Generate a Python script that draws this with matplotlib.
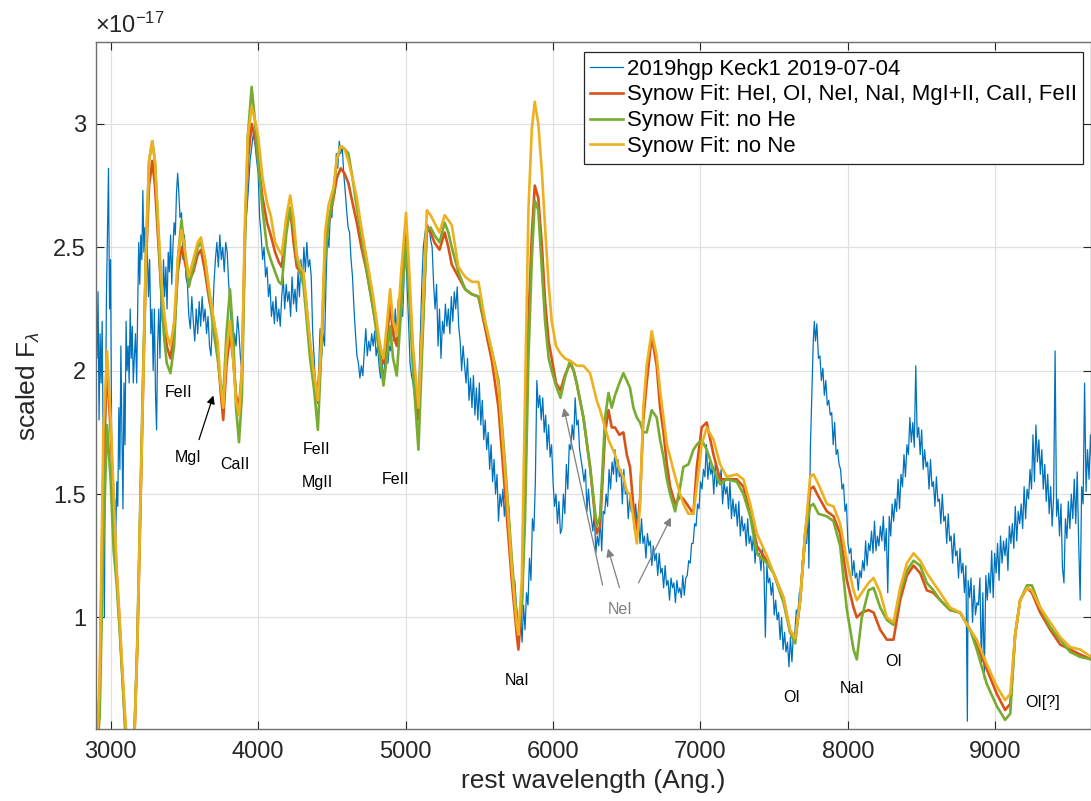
import matplotlib.pyplot as plt
from matplotlib.ticker import FormatStrFormatter

plt.rcParams['font.family'] = ['Liberation Sans', 'DejaVu Sans']
plt.rcParams['mathtext.fontset'] = 'custom'
plt.rcParams['mathtext.rm'] = 'Liberation Sans'
plt.rcParams['mathtext.it'] = 'Liberation Sans:italic'

spec_uv = [(2900, 2.27), (2907, 2.05), (2914, 2.32), (2921, 1.80), (2928, 2.15), (2935, 1.95),
           (2942, 2.20), (2950, 1.62), (2957, 1.00), (2964, 1.75), (2971, 2.30), (2978, 2.55),
           (2985, 2.82), (2992, 2.25), (2999, 2.45), (3006, 1.72), (3013, 1.50), (3020, 1.38),
           (3027, 1.48), (3034, 1.32), (3041, 1.55), (3048, 1.45), (3055, 1.85), (3062, 1.60),
           (3069, 2.10), (3076, 1.75), (3083, 1.44), (3090, 1.95), (3097, 1.70), (3104, 2.20),
           (3111, 2.00), (3118, 2.10), (3125, 1.95), (3132, 2.25), (3139, 2.05), (3146, 2.18),
           (3153, 1.95), (3160, 2.05), (3168, 2.15), (3176, 1.95), (3184, 2.30), (3190, 2.52),
           (3197, 2.35), (3204, 2.55), (3211, 2.45), (3218, 2.73), (3225, 2.48), (3232, 2.58),
           (3240, 2.40), (3248, 2.50), (3256, 2.30), (3264, 2.45), (3272, 2.15), (3280, 2.25),
           (3288, 2.00), (3296, 2.25), (3304, 1.90), (3311, 1.76), (3318, 2.10), (3326, 2.25),
           (3334, 2.05), (3342, 2.35), (3350, 2.20), (3358, 2.45), (3366, 2.30), (3374, 2.42),
           (3382, 2.25), (3390, 2.48), (3398, 2.40), (3406, 2.55), (3414, 2.35), (3422, 2.50),
           (3430, 2.60), (3438, 2.55), (3446, 2.72), (3454, 2.80), (3462, 2.72), (3470, 2.62)]

spec_blue = [(3480, 2.64), (3490, 2.45), (3500, 2.55), (3510, 2.38), (3520, 2.35), (3530, 2.22),
             (3540, 2.17), (3550, 2.30), (3560, 2.20), (3570, 2.12), (3580, 2.25), (3590, 2.15),
             (3600, 2.28), (3610, 2.18), (3620, 2.30), (3630, 2.20), (3640, 2.25), (3650, 2.15),
             (3660, 2.22), (3670, 2.10), (3680, 2.06), (3690, 2.20), (3700, 2.35), (3710, 2.45),
             (3720, 2.52), (3730, 2.42), (3740, 2.55), (3750, 2.45), (3760, 2.50), (3770, 2.40),
             (3780, 2.52), (3790, 2.48), (3800, 2.35), (3810, 2.28), (3820, 2.15), (3830, 2.03),
             (3840, 2.15), (3850, 2.10), (3860, 2.22), (3870, 2.15), (3880, 2.05), (3890, 2.00),
             (3900, 2.30), (3910, 2.56), (3920, 2.62), (3933, 2.73), (3945, 2.85), (3955, 2.90),
             (3967, 2.96), (3978, 2.92), (3990, 2.85)]

spec_green = [(4000, 2.80), (4010, 2.62), (4020, 2.55), (4030, 2.45), (4040, 2.50), (4050, 2.38),
              (4060, 2.42), (4070, 2.30), (4080, 2.35), (4090, 2.22), (4100, 2.28), (4110, 2.19),
              (4120, 2.30), (4130, 2.20), (4140, 2.25), (4150, 2.18), (4160, 2.30), (4170, 2.38),
              (4180, 2.25), (4190, 2.35), (4200, 2.28), (4210, 2.32), (4220, 2.22), (4230, 2.38),
              (4240, 2.27), (4250, 2.33), (4260, 2.24), (4270, 2.40), (4280, 2.30), (4290, 2.45),
              (4300, 2.35), (4310, 2.50), (4320, 2.40), (4330, 2.52), (4340, 2.42), (4350, 2.45),
              (4360, 2.38), (4370, 2.15), (4380, 2.05), (4390, 1.92), (4400, 1.89), (4410, 2.00),
              (4420, 2.17), (4430, 2.06), (4440, 2.15), (4450, 2.10), (4460, 2.35), (4470, 2.55),
              (4480, 2.50), (4490, 2.65), (4500, 2.62), (4510, 2.75), (4520, 2.72), (4530, 2.88),
              (4540, 2.82), (4550, 2.93), (4560, 2.88), (4570, 2.91), (4580, 2.80), (4590, 2.73),
              (4600, 2.65), (4610, 2.58), (4620, 2.56), (4630, 2.45), (4640, 2.38), (4650, 2.25),
              (4660, 2.15), (4670, 2.06), (4680, 2.03), (4690, 1.97), (4700, 2.02), (4710, 1.98),
              (4720, 2.08), (4730, 2.17), (4740, 2.06), (4750, 2.12), (4760, 2.08), (4770, 2.15),
              (4780, 2.10), (4790, 2.16), (4800, 2.06), (4810, 2.10), (4820, 2.02), (4830, 1.97),
              (4840, 2.03), (4850, 1.96), (4860, 2.05), (4870, 2.12), (4880, 2.03), (4890, 2.10),
              (4900, 2.08), (4910, 2.20), (4920, 2.12), (4930, 2.25), (4940, 2.15), (4950, 2.29),
              (4960, 2.18), (4970, 2.26), (4980, 2.22), (4990, 2.38), (5000, 2.50), (5010, 2.35),
              (5020, 2.20), (5030, 2.03), (5040, 1.98), (5050, 1.95), (5060, 1.90), (5070, 1.88),
              (5080, 1.85), (5090, 1.95), (5100, 2.15), (5110, 2.35), (5120, 2.50), (5130, 2.55),
              (5140, 2.59), (5150, 2.56), (5160, 2.58), (5170, 2.53), (5180, 2.50), (5190, 2.35),
              (5200, 2.25), (5210, 2.35), (5220, 2.10), (5230, 2.25), (5240, 2.05), (5250, 2.20),
              (5260, 2.15), (5270, 2.27), (5280, 2.18), (5290, 2.25), (5300, 2.15)]

spec_nad = [(5310, 2.30), (5320, 2.20), (5330, 2.32), (5340, 2.25), (5350, 2.34), (5360, 2.18),
            (5370, 2.12), (5380, 2.00), (5390, 2.10), (5400, 2.02), (5410, 1.95), (5420, 2.05),
            (5430, 1.88), (5440, 1.97), (5450, 1.85), (5460, 1.98), (5470, 1.82), (5480, 1.93),
            (5490, 1.80), (5500, 1.95), (5510, 1.78), (5520, 1.88), (5530, 1.72), (5540, 1.80),
            (5550, 1.68), (5560, 1.75), (5570, 1.60), (5580, 1.70), (5590, 1.55), (5600, 1.64),
            (5610, 1.50), (5620, 1.58), (5630, 1.39), (5640, 1.50), (5650, 1.45), (5660, 1.52),
            (5670, 1.41), (5680, 1.48), (5690, 1.40), (5700, 1.45), (5710, 1.30), (5720, 1.18),
            (5730, 1.10), (5740, 1.15), (5750, 1.06), (5760, 1.00), (5770, 0.95), (5780, 1.00),
            (5790, 0.90), (5800, 1.05), (5810, 0.95), (5820, 1.10), (5830, 1.05), (5840, 1.24),
            (5850, 1.15), (5860, 1.40), (5870, 1.35), (5880, 1.55), (5890, 1.96), (5900, 1.85),
            (5910, 1.90), (5920, 1.80), (5930, 1.89), (5940, 1.75), (5950, 1.82), (5960, 1.68),
            (5970, 1.78), (5980, 1.65), (5990, 1.70), (6000, 1.55)]

spec_red = [(6010, 1.45), (6020, 1.50), (6030, 1.38), (6040, 1.47), (6050, 1.34), (6060, 1.36),
            (6070, 1.50), (6080, 1.42), (6090, 1.62), (6100, 1.52), (6110, 1.70), (6120, 1.68),
            (6130, 1.78), (6140, 1.72), (6150, 1.89), (6160, 1.78), (6170, 1.80), (6180, 1.68),
            (6190, 1.64), (6200, 1.60), (6210, 1.55), (6220, 1.60), (6230, 1.43), (6240, 1.52),
            (6250, 1.44), (6260, 1.40), (6270, 1.35), (6280, 1.42), (6290, 1.26), (6300, 1.33),
            (6310, 1.29), (6320, 1.40), (6330, 1.27), (6340, 1.43), (6350, 1.42), (6360, 1.50),
            (6370, 1.45), (6380, 1.60), (6390, 1.52), (6400, 1.63), (6410, 1.58), (6420, 1.68),
            (6430, 1.55), (6440, 1.64), (6450, 1.57), (6460, 1.60), (6470, 1.46), (6480, 1.60),
            (6490, 1.50), (6500, 1.52), (6510, 1.40), (6520, 1.49), (6530, 1.43), (6540, 1.47),
            (6550, 1.36), (6560, 1.46), (6570, 1.38), (6580, 1.39), (6590, 1.30), (6600, 1.40),
            (6610, 1.30), (6620, 1.33), (6630, 1.24), (6640, 1.34), (6650, 1.29), (6660, 1.31),
            (6670, 1.21), (6680, 1.29), (6690, 1.23), (6700, 1.26), (6710, 1.17), (6720, 1.26),
            (6730, 1.18), (6740, 1.20), (6750, 1.12), (6760, 1.21), (6770, 1.13), (6780, 1.15),
            (6790, 1.07), (6800, 1.16), (6810, 1.12), (6820, 1.14), (6830, 1.06), (6840, 1.15),
            (6850, 1.10), (6860, 1.12), (6870, 1.08), (6880, 1.17), (6890, 1.09), (6900, 1.16),
            (6910, 1.17), (6920, 1.23), (6930, 1.22), (6940, 1.30), (6950, 1.30), (6960, 1.38),
            (6970, 1.37), (6980, 1.46), (6990, 1.44), (7000, 1.55)]

spec_oi = [(7010, 1.52), (7020, 1.60), (7030, 1.57), (7040, 1.70), (7050, 1.56), (7060, 1.63),
           (7070, 1.58), (7080, 1.61), (7090, 1.50), (7100, 1.62), (7110, 1.53), (7120, 1.58),
           (7130, 1.54), (7140, 1.60), (7150, 1.46), (7160, 1.55), (7170, 1.50), (7180, 1.53),
           (7190, 1.44), (7200, 1.55), (7210, 1.40), (7220, 1.48), (7230, 1.41), (7240, 1.46),
           (7250, 1.37), (7260, 1.47), (7270, 1.33), (7280, 1.41), (7290, 1.35), (7300, 1.38),
           (7310, 1.29), (7320, 1.40), (7330, 1.30), (7340, 1.33), (7350, 1.27), (7360, 1.34),
           (7370, 1.22), (7380, 1.31), (7390, 1.25), (7400, 1.26), (7410, 1.19), (7420, 1.28),
           (7430, 1.20), (7440, 0.92), (7450, 1.21), (7460, 1.14), (7470, 1.16), (7480, 1.09),
           (7490, 1.14), (7500, 1.01), (7510, 1.07), (7520, 0.99), (7530, 1.02), (7540, 0.91),
           (7550, 1.00), (7560, 0.87), (7570, 0.94), (7580, 0.86), (7590, 0.90), (7600, 0.80),
           (7610, 0.92), (7620, 0.82), (7630, 0.93), (7640, 0.94), (7650, 1.03), (7660, 1.01),
           (7670, 1.10), (7680, 1.09), (7690, 1.23), (7700, 1.22), (7710, 1.30), (7720, 1.30),
           (7730, 1.44), (7735, 1.20), (7745, 1.68), (7755, 1.90), (7765, 2.12), (7772, 2.20),
           (7780, 2.12), (7789, 2.19), (7800, 2.05), (7810, 2.06), (7820, 1.96), (7830, 2.01),
           (7840, 1.90), (7850, 1.96), (7860, 1.86), (7870, 1.88), (7880, 1.82), (7890, 1.83),
           (7900, 1.70), (7910, 1.79), (7920, 1.66), (7930, 1.68), (7940, 1.62), (7950, 1.60),
           (7960, 1.52), (7970, 1.54), (7980, 1.43), (7990, 1.46), (8000, 1.30)]

spec_ir = [(8010, 1.26), (8020, 1.28), (8030, 1.17), (8040, 1.23), (8050, 1.16), (8060, 1.18),
           (8070, 1.11), (8080, 1.19), (8090, 1.16), (8100, 1.23), (8110, 1.19), (8120, 1.31),
           (8130, 1.21), (8140, 1.30), (8150, 1.27), (8160, 1.35), (8170, 1.26), (8180, 1.39),
           (8190, 1.27), (8200, 1.33), (8210, 1.29), (8220, 1.37), (8230, 1.31), (8240, 1.41),
           (8250, 1.27), (8260, 1.36), (8270, 1.10), (8280, 1.41), (8290, 1.33), (8300, 1.46),
           (8310, 1.39), (8320, 1.48), (8330, 1.43), (8340, 1.56), (8350, 1.44), (8360, 1.58),
           (8370, 1.53), (8380, 1.66), (8390, 1.57), (8400, 1.70), (8410, 1.66), (8420, 1.81),
           (8430, 1.71), (8440, 1.79), (8450, 1.69), (8460, 2.02), (8470, 1.73), (8480, 1.77),
           (8490, 1.66), (8500, 1.76), (8510, 1.60), (8520, 1.68), (8530, 1.61), (8540, 1.63),
           (8550, 1.52), (8560, 1.64), (8570, 1.53), (8580, 1.55), (8590, 1.45), (8600, 1.57),
           (8610, 1.47), (8620, 1.48), (8630, 1.38), (8640, 1.50), (8650, 1.39), (8660, 1.41),
           (8670, 1.30), (8680, 1.42), (8690, 1.31), (8700, 1.33), (8710, 1.22), (8720, 1.34),
           (8730, 1.25), (8740, 1.27), (8750, 1.16), (8760, 1.28), (8770, 1.18), (8780, 1.22),
           (8790, 1.10), (8800, 1.21), (8810, 0.58), (8815, 1.15), (8825, 1.08), (8835, 1.16),
           (8845, 0.98), (8855, 1.13), (8865, 1.01), (8875, 1.06), (8885, 1.05), (8895, 1.16),
           (8905, 0.80), (8915, 1.10), (8925, 0.75), (8935, 1.17), (8945, 1.07), (8955, 1.18),
           (8965, 1.10), (8975, 1.27), (8985, 1.08), (8995, 1.26), (9005, 1.18), (9015, 1.30),
           (9025, 1.15), (9035, 1.33), (9045, 1.22), (9055, 1.31), (9065, 1.25), (9075, 1.32),
           (9085, 1.19), (9095, 1.37), (9105, 1.30), (9115, 1.38), (9125, 1.28), (9135, 1.45),
           (9145, 1.31), (9155, 1.43), (9165, 1.38), (9175, 1.46), (9185, 1.36), (9195, 1.53),
           (9205, 1.40), (9215, 1.52), (9225, 1.48), (9235, 1.60), (9245, 1.52), (9255, 1.74),
           (9265, 1.55), (9275, 1.78), (9285, 1.63), (9295, 1.72), (9305, 1.58), (9315, 1.68),
           (9325, 1.52), (9335, 1.62), (9345, 1.47), (9355, 1.58), (9365, 1.42), (9375, 1.53),
           (9385, 1.37), (9395, 1.49), (9405, 2.08), (9415, 1.41), (9425, 1.48), (9435, 1.33),
           (9445, 1.46), (9455, 1.20), (9465, 1.14), (9475, 1.40), (9485, 1.32), (9495, 1.47),
           (9505, 1.36), (9515, 1.50), (9525, 1.40), (9535, 1.56), (9545, 1.38), (9555, 1.59),
           (9565, 1.30), (9575, 1.07), (9585, 1.53), (9595, 1.46), (9605, 1.95), (9615, 1.51),
           (9625, 1.68), (9635, 1.56), (9645, 1.74), (9655, 1.60)]

# synow fits on a common wavelength grid
fit_wave = [2900, 2925, 2950, 2975, 3000, 3020, 3040, 3060, 3080, 3100,
            3130, 3160, 3180, 3200, 3220, 3240, 3260, 3282, 3300, 3320,
            3340, 3360, 3380, 3405, 3430, 3455, 3480, 3500, 3530, 3560,
            3590, 3612, 3640, 3670, 3700, 3725, 3745, 3763, 3785, 3809,
            3830, 3850, 3870, 3890, 3910, 3930, 3956, 3980, 4000, 4030,
            4060, 4085, 4115, 4140, 4160, 4190, 4217, 4240, 4262, 4285,
            4307, 4330, 4352, 4380, 4405, 4431, 4454, 4477, 4511, 4533,
            4560, 4585, 4612, 4640, 4669, 4700, 4737, 4780, 4827, 4850,
            4872, 4895, 4915, 4940, 4970, 5003, 5025, 5050, 5087, 5110,
            5144, 5170, 5195, 5230, 5265, 5290, 5313, 5358, 5404, 5449,
            5494, 5540, 5585, 5630, 5675, 5720, 5754, 5765, 5788, 5810,
            5833, 5856, 5876, 5900, 5925, 5946, 5970, 5991, 6020, 6050,
            6080, 6115, 6140, 6160, 6206, 6251, 6296, 6319, 6353, 6376,
            6398, 6420, 6450, 6477, 6500, 6522, 6545, 6568, 6590, 6612,
            6635, 6669, 6703, 6726, 6749, 6772, 6794, 6828, 6862, 6884,
            6918, 6952, 6975, 7008, 7042, 7088, 7133, 7178, 7246, 7291,
            7337, 7382, 7450, 7495, 7563, 7608, 7642, 7676, 7710, 7744,
            7766, 7800, 7857, 7902, 7947, 7993, 8038, 8060, 8094, 8140,
            8174, 8219, 8264, 8309, 8354, 8400, 8445, 8490, 8535, 8580,
            8626, 8693, 8761, 8829, 8874, 8942, 9010, 9066, 9101, 9134,
            9168, 9214, 9248, 9304, 9372, 9440, 9507, 9575, 9650]

fit_full = [0.40, 0.70, 1.60, 2.02, 1.75, 1.45, 1.18, 0.98, 0.75, 0.55,
            0.35, 0.50, 0.87, 1.40, 1.95, 2.45, 2.75, 2.85, 2.75, 2.55,
            2.35, 2.20, 2.10, 2.05, 2.15, 2.40, 2.50, 2.45, 2.36, 2.40,
            2.47, 2.49, 2.40, 2.28, 2.20, 2.08, 1.92, 1.80, 2.02, 2.15,
            2.05, 1.90, 1.85, 2.00, 2.55, 2.85, 3.00, 2.94, 2.85, 2.70,
            2.60, 2.55, 2.48, 2.44, 2.42, 2.58, 2.66, 2.52, 2.42, 2.40,
            2.38, 2.25, 2.10, 1.98, 1.87, 2.12, 2.50, 2.59, 2.70, 2.78,
            2.82, 2.80, 2.76, 2.68, 2.60, 2.50, 2.40, 2.25, 2.10, 2.03,
            2.12, 2.27, 2.15, 2.10, 2.35, 2.57, 2.35, 2.05, 1.80, 2.10,
            2.59, 2.56, 2.52, 2.49, 2.56, 2.50, 2.43, 2.38, 2.33, 2.31,
            2.30, 2.17, 2.04, 1.85, 1.50, 1.15, 0.93, 0.87, 1.06, 1.50,
            2.20, 2.55, 2.75, 2.70, 2.50, 2.28, 2.12, 2.05, 1.95, 1.92,
            1.98, 2.03, 2.00, 1.95, 1.81, 1.61, 1.34, 1.37, 1.75, 1.84,
            1.77, 1.77, 1.74, 1.75, 1.66, 1.61, 1.45, 1.34, 1.48, 1.80,
            1.95, 2.14, 2.02, 1.85, 1.75, 1.62, 1.53, 1.46, 1.49, 1.48,
            1.45, 1.42, 1.61, 1.77, 1.79, 1.66, 1.56, 1.56, 1.56, 1.53,
            1.42, 1.29, 1.23, 1.18, 1.08, 0.94, 0.91, 1.07, 1.34, 1.52,
            1.53, 1.49, 1.43, 1.41, 1.34, 1.15, 1.04, 1.00, 1.02, 1.03,
            1.02, 0.95, 0.91, 0.91, 1.07, 1.17, 1.21, 1.18, 1.11, 1.10,
            1.07, 1.03, 1.02, 0.95, 0.89, 0.79, 0.69, 0.625, 0.65, 0.93,
            1.07, 1.12, 1.10, 1.02, 0.95, 0.89, 0.87, 0.85, 0.83]

fit_no_he = [0.40, 0.60, 1.30, 1.78, 1.55, 1.27, 1.14, 0.95, 0.75, 0.52,
             0.35, 0.52, 0.90, 1.45, 2.00, 2.50, 2.85, 2.93, 2.85, 2.60,
             2.35, 2.15, 2.03, 1.99, 2.10, 2.45, 2.61, 2.50, 2.34, 2.42,
             2.50, 2.52, 2.45, 2.30, 2.15, 2.05, 1.95, 1.89, 2.15, 2.33,
             2.15, 1.85, 1.71, 1.90, 2.50, 2.95, 3.15, 3.00, 2.85, 2.65,
             2.50, 2.45, 2.40, 2.36, 2.35, 2.55, 2.66, 2.58, 2.45, 2.40,
             2.35, 2.20, 2.05, 1.92, 1.76, 2.12, 2.45, 2.60, 2.72, 2.85,
             2.91, 2.90, 2.88, 2.78, 2.66, 2.55, 2.40, 2.25, 2.05, 1.94,
             2.05, 2.18, 2.05, 1.98, 2.25, 2.52, 2.30, 2.00, 1.68, 2.05,
             2.57, 2.58, 2.55, 2.52, 2.60, 2.56, 2.50, 2.40, 2.33, 2.31,
             2.30, 2.19, 2.08, 1.96, 1.62, 1.24, 0.99, 0.97, 1.04, 1.40,
             2.05, 2.45, 2.69, 2.65, 2.40, 2.20, 2.05, 2.00, 1.94, 1.89,
             1.97, 2.04, 2.00, 1.95, 1.81, 1.61, 1.37, 1.41, 1.81, 1.91,
             1.85, 1.90, 1.95, 1.99, 1.96, 1.93, 1.85, 1.81, 1.79, 1.75,
             1.75, 1.84, 1.81, 1.72, 1.65, 1.56, 1.50, 1.43, 1.53, 1.61,
             1.62, 1.68, 1.70, 1.72, 1.68, 1.60, 1.54, 1.56, 1.55, 1.50,
             1.41, 1.26, 1.22, 1.18, 1.06, 0.94, 0.895, 1.07, 1.34, 1.45,
             1.46, 1.42, 1.41, 1.39, 1.29, 1.03, 0.87, 0.83, 1.00, 1.11,
             1.12, 1.04, 0.99, 0.97, 1.10, 1.19, 1.23, 1.21, 1.14, 1.11,
             1.07, 1.03, 1.02, 0.95, 0.87, 0.73, 0.64, 0.585, 0.61, 0.93,
             1.07, 1.13, 1.13, 1.04, 0.96, 0.91, 0.86, 0.84, 0.83]

fit_no_ne = [0.40, 0.75, 1.75, 2.08, 1.80, 1.50, 1.20, 1.00, 0.78, 0.58,
             0.38, 0.50, 0.87, 1.42, 1.98, 2.50, 2.85, 2.93, 2.85, 2.62,
             2.40, 2.25, 2.15, 2.10, 2.20, 2.45, 2.57, 2.50, 2.38, 2.45,
             2.52, 2.54, 2.45, 2.32, 2.20, 2.12, 1.95, 1.85, 2.08, 2.20,
             2.05, 1.88, 1.82, 2.00, 2.60, 2.95, 3.07, 3.01, 2.95, 2.78,
             2.68, 2.63, 2.52, 2.49, 2.47, 2.62, 2.71, 2.62, 2.47, 2.42,
             2.40, 2.25, 2.12, 1.98, 1.88, 2.15, 2.56, 2.67, 2.74, 2.86,
             2.91, 2.90, 2.85, 2.78, 2.70, 2.58, 2.45, 2.30, 2.10, 2.05,
             2.18, 2.33, 2.20, 2.14, 2.40, 2.64, 2.40, 2.10, 1.85, 2.15,
             2.65, 2.63, 2.60, 2.56, 2.63, 2.61, 2.59, 2.42, 2.38, 2.36,
             2.36, 2.20, 2.08, 1.94, 1.59, 1.20, 0.97, 0.93, 1.15, 1.90,
             2.65, 2.98, 3.09, 3.00, 2.80, 2.58, 2.35, 2.20, 2.10, 2.07,
             2.05, 2.04, 2.03, 2.02, 2.02, 1.99, 1.88, 1.84, 1.77, 1.72,
             1.69, 1.66, 1.60, 1.57, 1.51, 1.50, 1.40, 1.30, 1.45, 1.85,
             2.02, 2.16, 2.06, 1.92, 1.81, 1.70, 1.65, 1.57, 1.50, 1.46,
             1.42, 1.42, 1.53, 1.70, 1.77, 1.72, 1.62, 1.57, 1.58, 1.56,
             1.46, 1.34, 1.25, 1.18, 1.08, 0.95, 0.915, 1.07, 1.34, 1.57,
             1.58, 1.54, 1.46, 1.45, 1.38, 1.23, 1.11, 1.07, 1.10, 1.14,
             1.16, 1.10, 1.00, 0.98, 1.12, 1.22, 1.26, 1.23, 1.18, 1.14,
             1.10, 1.04, 1.02, 0.95, 0.91, 0.81, 0.72, 0.665, 0.69, 0.93,
             1.07, 1.12, 1.11, 1.04, 0.98, 0.92, 0.88, 0.87, 0.84]

labels = ["2019hgp Keck1 2019-07-04",
          "Synow Fit: HeI, OI, NeI, NaI, MgI+II, CaII, FeII",
          "Synow Fit: no He",
          "Synow Fit: no Ne"]

# line ids: (text, wavelength, flux)
line_ids = [("FeII", 3457, 1.91), ("MgI", 3524, 1.65), ("CaII", 3843, 1.62),
            ("FeII", 4393, 1.68), ("MgII", 4400, 1.545), ("FeII", 4929, 1.557),
            ("NaI", 5756, 0.746), ("OI", 7616, 0.677), ("NaI", 8030, 0.714),
            ("OI", 8308, 0.823), ("OI[?]", 9318, 0.657)]

spectrum = spec_uv + spec_blue + spec_green + spec_nad + spec_red + spec_oi + spec_ir
wave = [p[0] for p in spectrum]
flux = [p[1] for p in spectrum]

fig = plt.figure(figsize=(10.91, 8.01), dpi=100)
ax = fig.add_axes([0.0877, 0.0899, 0.9125, 0.8577])

ax.plot(wave, flux, color='#0072BD', lw=0.9, label=labels[0])
ax.plot(fit_wave, fit_full, color='#D95319', lw=1.9, label=labels[1])
ax.plot(fit_wave, fit_no_he, color='#77AC30', lw=1.9, label=labels[2])
ax.plot(fit_wave, fit_no_ne, color='#EDB120', lw=1.9, label=labels[3])

ax.set_xlim(2898, 9650)
ax.set_ylim(0.548, 3.332)
ax.set_xticks([3000, 4000, 5000, 6000, 7000, 8000, 9000])
ax.set_yticks([1, 1.5, 2, 2.5, 3])
ax.yaxis.set_major_formatter(FormatStrFormatter('%g'))
ax.tick_params(direction='in', top=True, right=True, length=6, width=0.8,
               labelsize=17, color='#262626', labelcolor='#262626')
ax.tick_params(axis='x', pad=9)
ax.tick_params(axis='y', pad=7)
ax.grid(True, color='#e0e0e0', lw=0.9)
ax.set_axisbelow(True)
for s in ax.spines.values():
    s.set_color('#6e6e6e')
    s.set_linewidth(1.0)

ax.set_xlabel('rest wavelength (Ang.)', fontsize=19, color='#262626', labelpad=4)
ax.set_ylabel(r'scaled F$_\lambda$', fontsize=19, color='#262626', labelpad=8)
fig.text(0.087, 0.969, '×10$^{-17}$', fontsize=17, color='#262626', va='center')

for name, lam, f in line_ids:
    ax.text(lam, f, name, fontsize=11.5, ha='center', va='center')

ax.annotate('', xy=(3702, 1.91), xytext=(3593, 1.71),
            arrowprops=dict(arrowstyle='-|>', color='k', lw=0.9, mutation_scale=12))
ax.text(6456, 1.034, 'NeI', fontsize=11.5, ha='center', va='center', color='#808080')
for head, tail in [((6069, 1.86), (6340, 1.12)), ((6367, 1.29), (6456, 1.11)),
                   ((6808, 1.415), (6571, 1.13))]:
    ax.annotate('', xy=head, xytext=tail,
                arrowprops=dict(arrowstyle='-|>', color='#808080', lw=0.9, mutation_scale=12))

leg = ax.legend(loc='upper right', bbox_to_anchor=(0.992, 0.9854), fontsize=15.9,
                fancybox=False, framealpha=1, edgecolor='#262626', borderpad=0.3,
                labelspacing=0.22, handlelength=1.5, handletextpad=0.15, borderaxespad=0)
leg.get_frame().set_linewidth(0.9)

fig.savefig('out.png', dpi=100)
